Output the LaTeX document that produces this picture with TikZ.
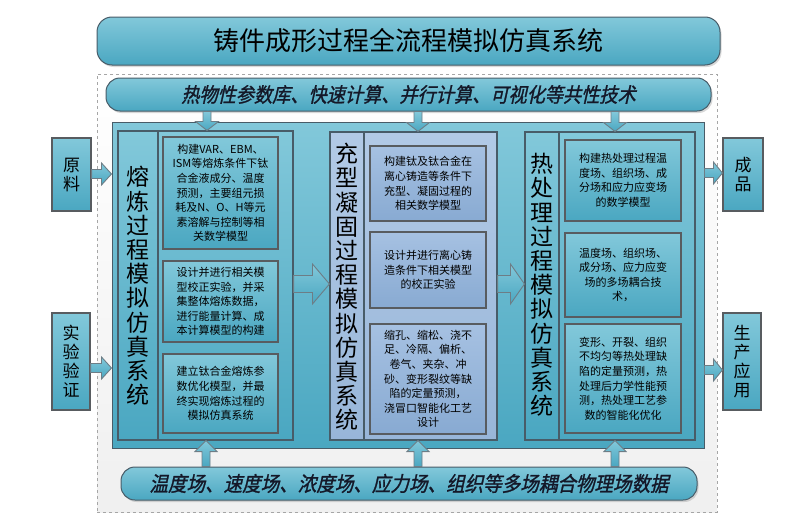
\documentclass[tikz,border=0pt]{standalone}
\usepackage{fontspec}
\setmainfont{Noto Sans CJK SC}
\newfontfamily\cjkbi{Noto Sans CJK SC}[FakeSlant=0.22,FakeBold=1.2,FakeStretch=0.9]
\usetikzlibrary{calc,shadows}
\definecolor{tealT}{RGB}{130,200,218}
\definecolor{tealB}{RGB}{74,167,193}
\definecolor{edgeC}{RGB}{72,92,104}
\definecolor{boxE}{RGB}{88,92,96}
\definecolor{blueT}{RGB}{178,202,230}
\definecolor{blueB}{RGB}{152,182,217}
\definecolor{bluebxT}{RGB}{166,193,226}
\definecolor{bluebxB}{RGB}{136,170,210}
\definecolor{navyT}{RGB}{20,24,40}
\tikzset{
  tealfill/.style={top color=tealT, bottom color=tealB},
  rbox/.style={tealfill, draw=edgeC, line width=1pt, rounded corners=15pt,
    drop shadow={shadow xshift=1.5pt, shadow yshift=-2pt, opacity=0.3}},
  mainbox/.style={tealfill, draw=edgeC, line width=1pt},
  colbox/.style={tealfill, draw=edgeC, line width=1.1pt},
  colblue/.style={top color=blueT, bottom color=blueB, draw=edgeC, line width=1.1pt},
  txtbox/.style={tealfill, draw=boxE, line width=1.2pt, inner sep=0pt, align=center,
    font=\fontsize{11}{14.6}\selectfont},
  txtblue/.style={top color=bluebxT, bottom color=bluebxB, draw=boxE, line width=1.2pt,
    inner sep=0pt, align=center, font=\fontsize{11}{14.6}\selectfont},
  sidebox/.style={tealfill, draw=boxE, line width=1.1pt, inner sep=0pt, align=center,
    font=\fontsize{17}{19}\selectfont,
    drop shadow={shadow xshift=1.2pt, shadow yshift=-1.2pt, opacity=0.25}},
  vtitle/.style={inner sep=0pt, align=center, font=\fontsize{23}{24.2}\selectfont},
  barrow/.style={tealfill, draw=edgeC!80, line width=0.9pt},
  bgdash/.style={draw=gray!70, dashed, line width=0.9pt, top color=white, bottom color=gray!12}
}
\newcommand{\rectnode}[7]{\node[#2, minimum width={(#5-#3)*1pt}, minimum height={(#6-#4)*1pt}] (#1) at ({(#3+#5)/2},{(#4+#6)/2}) {#7};}
\newcommand{\rarr}[5]{\draw[barrow] let \p1=#1, \p2=#2 in (\x1,\y1+#3) -- (\x2-#5,\y1+#3) -- (\x2-#5,\y1+#4) -- (\x2,\y1) -- (\x2-#5,\y1-#4) -- (\x2-#5,\y1-#3) -- (\x1,\y1-#3) -- cycle;}
\newcommand{\darr}[5]{\draw[barrow] let \p1=#1, \p2=#2 in (\x1-#3,\y1) -- (\x1-#3,\y2+#5) -- (\x1-#4,\y2+#5) -- (\x1,\y2) -- (\x1+#4,\y2+#5) -- (\x1+#3,\y2+#5) -- (\x1+#3,\y1) -- cycle;}
\newcommand{\uarr}[5]{\draw[barrow] let \p1=#1, \p2=#2 in (\x1-#3,\y1) -- (\x1-#3,\y2-#5) -- (\x1-#4,\y2-#5) -- (\x1,\y2) -- (\x1+#4,\y2-#5) -- (\x1+#3,\y2-#5) -- (\x1+#3,\y1) -- cycle;}
\begin{document}
\begin{tikzpicture}[x=1pt,y=-1pt]
\useasboundingbox (0,0) rectangle (810,522);
% background dashed frame
\rectnode{frame}{bgdash}{97}{74}{717}{512}{}
% title
\rectnode{title}{rbox}{97}{17}{720}{65}{\fontsize{26}{30}\selectfont 铸件成形过程全流程模拟仿真系统}
% banners
\rectnode{top}{rbox, rounded corners=14pt}{106}{78}{711}{111}{\color{navyT}\cjkbi\fontsize{20.2}{24}\selectfont 热物性参数库、快速计算、并行计算、可视化等共性技术}
\rectnode{bot}{rbox, rounded corners=14pt}{121}{467}{697}{500}{\color{navyT}\cjkbi\fontsize{20.6}{24}\selectfont 温度场、速度场、浓度场、应力场、组织等多场耦合物理场数据}
% main area
\rectnode{main}{mainbox}{112}{122}{704}{448}{}
% columns
\rectnode{col1}{colbox}{118}{131}{293}{440}{}
\rectnode{col2}{colblue}{330}{132}{497}{440}{}
\rectnode{col3}{colbox}{525}{132}{695}{440}{}
\draw[edgeC, line width=1.1pt] (col1.north -| 158,0) -- (col1.south -| 158,0);
\draw[edgeC, line width=1.1pt] (col2.north -| 364,0) -- (col2.south -| 364,0);
\draw[edgeC, line width=1.1pt] (col3.north -| 559,0) -- (col3.south -| 559,0);
% column titles
\node[vtitle] (t1) at (138,286) {熔\\炼\\过\\程\\模\\拟\\仿\\真\\系\\统};
\node[vtitle] (t2) at (347,287) {充\\型\\凝\\固\\过\\程\\模\\拟\\仿\\真\\系\\统};
\node[vtitle] (t3) at (542,285) {热\\处\\理\\过\\程\\模\\拟\\仿\\真\\系\\统};
% column 1 text boxes
\rectnode{a1}{txtbox}{163}{137}{278}{249}{构建VAR、EBM、\\ISM等熔炼条件下钛\\合金液成分、温度\\预测，主要组元损\\耗及N、O、H等元\\素溶解与控制等相\\关数学模型}
\rectnode{a2}{txtbox}{163}{261}{278}{342}{设计并进行相关模\\型校正实验，并采\\集整体熔炼数据，\\进行能量计算、成\\本计算模型的构建}
\rectnode{a3}{txtbox}{163}{354}{278}{433}{建立钛合金熔炼参\\数优化模型，并最\\终实现熔炼过程的\\模拟仿真系统}
% column 2 text boxes
\rectnode{b1}{txtblue}{370}{146}{486}{221}{构建钛及钛合金在\\离心铸造等条件下\\充型、凝固过程的\\相关数学模型}
\rectnode{b2}{txtblue}{370}{232}{486}{308}{设计并进行离心铸\\造条件下相关模型\\的校正实验}
\rectnode{b3}{txtblue}{370}{324}{486}{434}{缩孔、缩松、浇不\\足、冷隔、偏析、\\卷气、夹杂、冲\\砂、变形裂纹等缺\\陷的定量预测，\\浇冒口智能化工艺\\设计}
% column 3 text boxes
\rectnode{c1}{txtbox}{565}{140}{681}{221}{构建热处理过程温\\度场、组织场、成\\分场和应力应变场\\的数学模型}
\rectnode{c2}{txtbox}{565}{233}{681}{317}{温度场、组织场、\\成分场、应力应变\\场的多场耦合技\\术，}
\rectnode{c3}{txtbox}{565}{324}{681}{433}{变形、开裂、组织\\不均匀等热处理缺\\陷的定量预测，热\\处理后力学性能预\\测，热处理工艺参\\数的智能化优化}
% side boxes
\rectnode{raw}{sidebox}{52}{138}{91}{211}{原\\料}
\rectnode{exp}{sidebox}{52}{313}{90}{410}{实\\验\\验\\证}
\rectnode{prod}{sidebox}{723}{138}{763}{211}{成\\品}
\rectnode{app}{sidebox}{723}{313}{761}{410}{生\\产\\应\\用}
% arrows: top banner -> columns
\darr{(207,0 |- top.south)}{(207,0 |- col1.north)}{4pt}{11.5pt}{9pt}
\darr{(418,0 |- top.south)}{(418,0 |- col2.north)}{4pt}{11.5pt}{9pt}
\darr{(615,0 |- top.south)}{(615,0 |- col3.north)}{4pt}{11.5pt}{9pt}
% arrows: bottom banner -> columns
\uarr{(206,0 |- bot.north)}{(206,0 |- col1.south)}{4pt}{11pt}{11pt}
\uarr{(418,0 |- bot.north)}{(418,0 |- col2.south)}{4pt}{11pt}{11pt}
\uarr{(615,0 |- bot.north)}{(615,0 |- col3.south)}{4pt}{11pt}{11pt}
% arrows between columns
\rarr{(col1.east |- 0,284)}{(col2.west |- 0,284)}{8.5pt}{20pt}{17pt}
\rarr{(col2.east |- 0,284)}{(col3.west |- 0,284)}{8.5pt}{20pt}{14pt}
% side arrows
\rarr{(raw.east |- 0,174)}{(main.west |- 0,174)}{4.5pt}{11pt}{10pt}
\rarr{(exp.east |- 0,368)}{(main.west |- 0,368)}{4.5pt}{11pt}{10pt}
\rarr{(main.east |- 0,173)}{(prod.west |- 0,173)}{4.5pt}{11pt}{9pt}
\rarr{(main.east |- 0,370)}{(app.west |- 0,370)}{4.5pt}{11pt}{9pt}
\end{tikzpicture}
\end{document}
